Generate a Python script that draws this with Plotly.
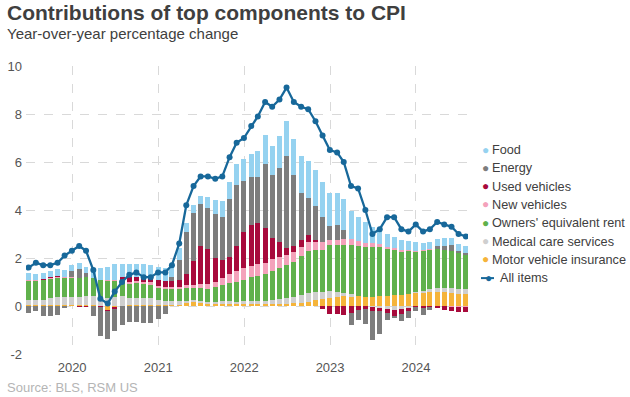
import pandas as pd
import plotly.graph_objects as go

# Monthly data, Jun 2019 - Jul 2024 (contributions, percentage points)
months = pd.date_range("2019-06-30", periods=62, freq="ME")

motor_insurance = [0.03, 0.03, 0.03, 0.03, 0.03, 0.03, 0.03,
                   0.03, 0.03, 0.03, -0.02, -0.2, -0.04, 0.02, 0.03, 0.03, 0.03, 0.03, 0.03,
                   0.03, 0.04, 0.05, 0.12, 0.2, 0.16, 0.1, 0.08, 0.07, 0.07, 0.07, 0.07,
                   0.08, 0.08, 0.08, 0.08, 0.1, 0.1, 0.12, 0.14, 0.18, 0.25, 0.3, 0.33,
                   0.38, 0.42, 0.4, 0.4, 0.38, 0.37, 0.42, 0.42, 0.45, 0.47, 0.5, 0.55,
                   0.55, 0.6, 0.6, 0.58, 0.55, 0.5, 0.48]
medical = [0.2, 0.22, 0.24, 0.3, 0.33, 0.35, 0.35,
           0.35, 0.38, 0.38, 0.37, 0.35, 0.38, 0.38, 0.3, 0.31, 0.32, 0.3, 0.2,
           0.19, 0.18, 0.17, 0.1, 0.05, 0.06, 0.07, 0.1, 0.12, 0.12, 0.1, 0.12,
           0.13, 0.13, 0.14, 0.17, 0.2, 0.22, 0.25, 0.3, 0.38, 0.35, 0.3, 0.28,
           0.2, 0.12, 0.08, 0.0, -0.01, -0.05, -0.07, -0.14, -0.17, -0.13, -0.1, 0.02,
           0.06, 0.1, 0.14, 0.17, 0.2, 0.22, 0.22]
oer = [0.83, 0.82, 0.82, 0.83, 0.83, 0.82, 0.82,
       0.8, 0.8, 0.76, 0.73, 0.7, 0.68, 0.66, 0.62, 0.62, 0.6, 0.58, 0.54,
       0.51, 0.5, 0.5, 0.55, 0.5, 0.55, 0.55, 0.6, 0.68, 0.78, 0.83, 0.9,
       0.98, 1.03, 1.1, 1.2, 1.27, 1.4, 1.46, 1.65, 1.72, 1.74, 1.75, 1.92,
       1.95, 2.02, 2.05, 2.08, 2.06, 2.08, 2.03, 1.95, 1.9, 1.82, 1.8, 1.7,
       1.7, 1.65, 1.63, 1.6, 1.56, 1.5, 1.45]
new_vehicles = [0.03, 0.02, 0.02, 0.02, 0.02, 0.02, 0.02,
                0.0, 0.01, 0.01, 0.0, 0.02, 0.04, 0.05, 0.06, 0.07, 0.07, 0.07, 0.07,
                0.05, 0.06, 0.06, 0.1, 0.14, 0.16, 0.2, 0.22, 0.3, 0.36, 0.44, 0.48,
                0.47, 0.49, 0.49, 0.5, 0.48, 0.42, 0.41, 0.38, 0.38, 0.34, 0.3, 0.24,
                0.22, 0.22, 0.26, 0.24, 0.2, 0.18, 0.12, 0.1, 0.08, 0.06, 0.04, 0.03,
                0.02, 0.01, -0.01, -0.02, -0.03, -0.04, -0.04]
used_vehicles = [0.01, 0.01, 0.03, 0.02, 0.03, -0.02, 0.0,
                 -0.03, -0.01, 0.0, -0.02, -0.01, -0.1, 0.08, 0.18, 0.16, 0.18, 0.2, 0.25,
                 0.26, 0.26, 0.3, 0.45, 0.97, 1.55, 1.46, 1.0, 0.75, 0.72, 1.07, 1.5,
                 1.72, 1.74, 1.46, 0.9, 0.63, 0.28, 0.28, 0.3, 0.28, 0.08, -0.13, -0.35,
                 -0.33, -0.38, -0.3, -0.18, -0.12, -0.15, -0.15, -0.17, -0.25, -0.2, -0.12, -0.05,
                 -0.07, -0.04, -0.05, -0.13, -0.17, -0.19, -0.2]
energy = [-0.28, -0.2, -0.4, -0.4, -0.36, -0.03, 0.25,
          0.35, 0.15, -0.4, -1.2, -1.15, -0.9, -0.8, -0.65, -0.65, -0.72, -0.72, -0.55,
          -0.33, 0.15, 0.85, 1.78, 2.0, 1.76, 1.7, 1.85, 1.8, 2.4, 2.54, 2.15,
          2.0, 1.92, 2.64, 2.6, 3.05, 3.85, 2.94, 1.95, 1.57, 1.4, 1.05, 0.55,
          0.62, 0.38, -0.5, -0.4, -0.6, -1.2, -0.95, -0.27, -0.04, -0.3, -0.3, -0.15,
          -0.3, -0.13, 0.14, 0.17, 0.24, 0.07, 0.07]
food = [0.26, 0.22, 0.24, 0.25, 0.29, 0.28, 0.25,
        0.25, 0.25, 0.26, 0.49, 0.56, 0.63, 0.57, 0.57, 0.54, 0.54, 0.51, 0.54,
        0.54, 0.51, 0.5, 0.36, 0.35, 0.35, 0.48, 0.55, 0.65, 0.7, 0.86, 0.89,
        0.95, 1.06, 1.2, 1.22, 1.35, 1.43, 1.5, 1.55, 1.55, 1.5, 1.45, 1.4,
        1.35, 1.28, 1.15, 1.0, 0.88, 0.68, 0.6, 0.52, 0.46, 0.42, 0.38, 0.35,
        0.3, 0.3, 0.3, 0.3, 0.29, 0.29, 0.29]
all_items = [1.6, 1.8, 1.7, 1.7, 1.8, 2.1, 2.3,
             2.5, 2.3, 1.5, 0.3, 0.1, 0.6, 1.0, 1.3, 1.4, 1.2, 1.2, 1.4,
             1.4, 1.7, 2.6, 4.2, 5.0, 5.4, 5.4, 5.3, 5.4, 6.2, 6.8, 7.0,
             7.5, 7.9, 8.5, 8.3, 8.6, 9.1, 8.5, 8.3, 8.2, 7.7, 7.1, 6.5,
             6.4, 6.0, 5.0, 4.9, 4.0, 3.0, 3.2, 3.7, 3.7, 3.2, 3.1, 3.4,
             3.1, 3.2, 3.5, 3.4, 3.3, 3.0, 2.9]

year_ticks = ["2020-01-01", "2021-01-01", "2022-01-01", "2023-01-01", "2024-01-01"]
year_labels = ["2020", "2021", "2022", "2023", "2024"]
y_ticks = [-2, 0, 2, 4, 6, 8, 10]
y_labels = ["-2", "0", "2", "4", "6", "8", "10"]

# stacking order bottom-up
series = [
    ("Motor vehicle insurance", motor_insurance, "#f5b43a"),
    ("Medical care services", medical, "#cfcfcf"),
    ("Owners' equivalent rent", oer, "#60b14c"),
    ("New vehicles", new_vehicles, "#f4a2bb"),
    ("Used vehicles", used_vehicles, "#a80a3c"),
    ("Energy", energy, "#7d7d7d"),
    ("Food", food, "#95d2f0"),
]
LINE_COLOR = "#17689a"

FONT = "Liberation Sans, Arial, sans-serif"
bar_width_ms = 21 * 24 * 3600 * 1000

fig = go.Figure()
for name, vals, col in series:
    fig.add_trace(go.Bar(x=months, y=vals, name=name, marker_color=col,
                         marker_line_width=0, width=bar_width_ms, showlegend=False))

fig.add_trace(go.Scatter(x=months, y=all_items, name="All items", mode="lines+markers",
                         line=dict(color=LINE_COLOR, width=2.3),
                         marker=dict(color=LINE_COLOR, size=6), showlegend=False))

L, R, T, B = 26, 162, 66, 43
W, H = 630, 397
pw, ph = W - L - R, H - T - B

def px_x(x):
    return (x - L) / pw

def px_y(y):
    return (H - B - y) / ph

fig.update_layout(
    width=W, height=H,
    margin=dict(l=L, r=R, t=T, b=B, autoexpand=False),
    paper_bgcolor="white", plot_bgcolor="white",
    barmode="relative", bargap=0,
    font=dict(family=FONT, size=13, color="#555555"),
    showlegend=False,
    xaxis=dict(type="date", range=["2019-06-19", "2024-08-09"],
               tickmode="array", tickvals=year_ticks, ticktext=year_labels,
               showgrid=True, gridcolor="#d9d9d9", griddash="dash", gridwidth=1,
               showline=False, ticks="", zeroline=False, ticklabelstandoff=4,
               tickfont=dict(size=13, color="#555555")),
    yaxis=dict(range=[-2, 10], tickmode="array", tickvals=y_ticks, ticktext=y_labels,
               showgrid=True, gridcolor="#d9d9d9", griddash="dash", gridwidth=1,
               zeroline=False, showline=False, ticks="", ticklabelstandoff=3,
               tickfont=dict(size=13, color="#555555")),
)

# Legend drawn as text: colored dot + label, in reference order
legend_items = [(n, c) for n, _, c in reversed(series)]
y0, dy = 150, 18.3
for k, (name, col) in enumerate(legend_items):
    yy = y0 + dy * k
    fig.add_annotation(text="●", xref="paper", yref="paper", x=px_x(485), y=px_y(yy - 0.5),
                       xanchor="center", yanchor="middle", showarrow=False,
                       font=dict(size=12, color=col, family=FONT))
    fig.add_annotation(text=name, xref="paper", yref="paper", x=px_x(490), y=px_y(yy),
                       xanchor="left", yanchor="middle", showarrow=False,
                       font=dict(size=12.7, color="#404040", family=FONT))
yy = y0 + dy * len(legend_items)
fig.add_shape(type="line", xref="paper", yref="paper",
              x0=px_x(481), x1=px_x(494), y0=px_y(yy), y1=px_y(yy),
              line=dict(color=LINE_COLOR, width=2))
fig.add_annotation(text="●", xref="paper", yref="paper", x=px_x(488.5), y=px_y(yy - 0.5),
                   xanchor="center", yanchor="middle", showarrow=False,
                   font=dict(size=12, color=LINE_COLOR, family=FONT))
fig.add_annotation(text="All items", xref="paper", yref="paper", x=px_x(498), y=px_y(yy),
                   xanchor="left", yanchor="middle", showarrow=False,
                   font=dict(size=12.7, color="#404040", family=FONT))

fig.add_annotation(text="<b>Contributions of top components to CPI</b>",
                   xref="paper", yref="paper", x=px_x(5), y=px_y(12),
                   xanchor="left", yanchor="middle", showarrow=False,
                   font=dict(size=21, color="#3f3f3f", family=FONT))
fig.add_annotation(text="Year-over-year percentage change",
                   xref="paper", yref="paper", x=px_x(5), y=px_y(34),
                   xanchor="left", yanchor="middle", showarrow=False,
                   font=dict(size=15, color="#404040", family=FONT))
fig.add_annotation(text="Source: BLS, RSM US",
                   xref="paper", yref="paper", x=px_x(5), y=px_y(387),
                   xanchor="left", yanchor="middle", showarrow=False,
                   font=dict(size=13, color="#b5b5b5", family=FONT))

fig.write_html("out.html", config={"displayModeBar": False},
               post_script="document.body.style.margin='0px';")
